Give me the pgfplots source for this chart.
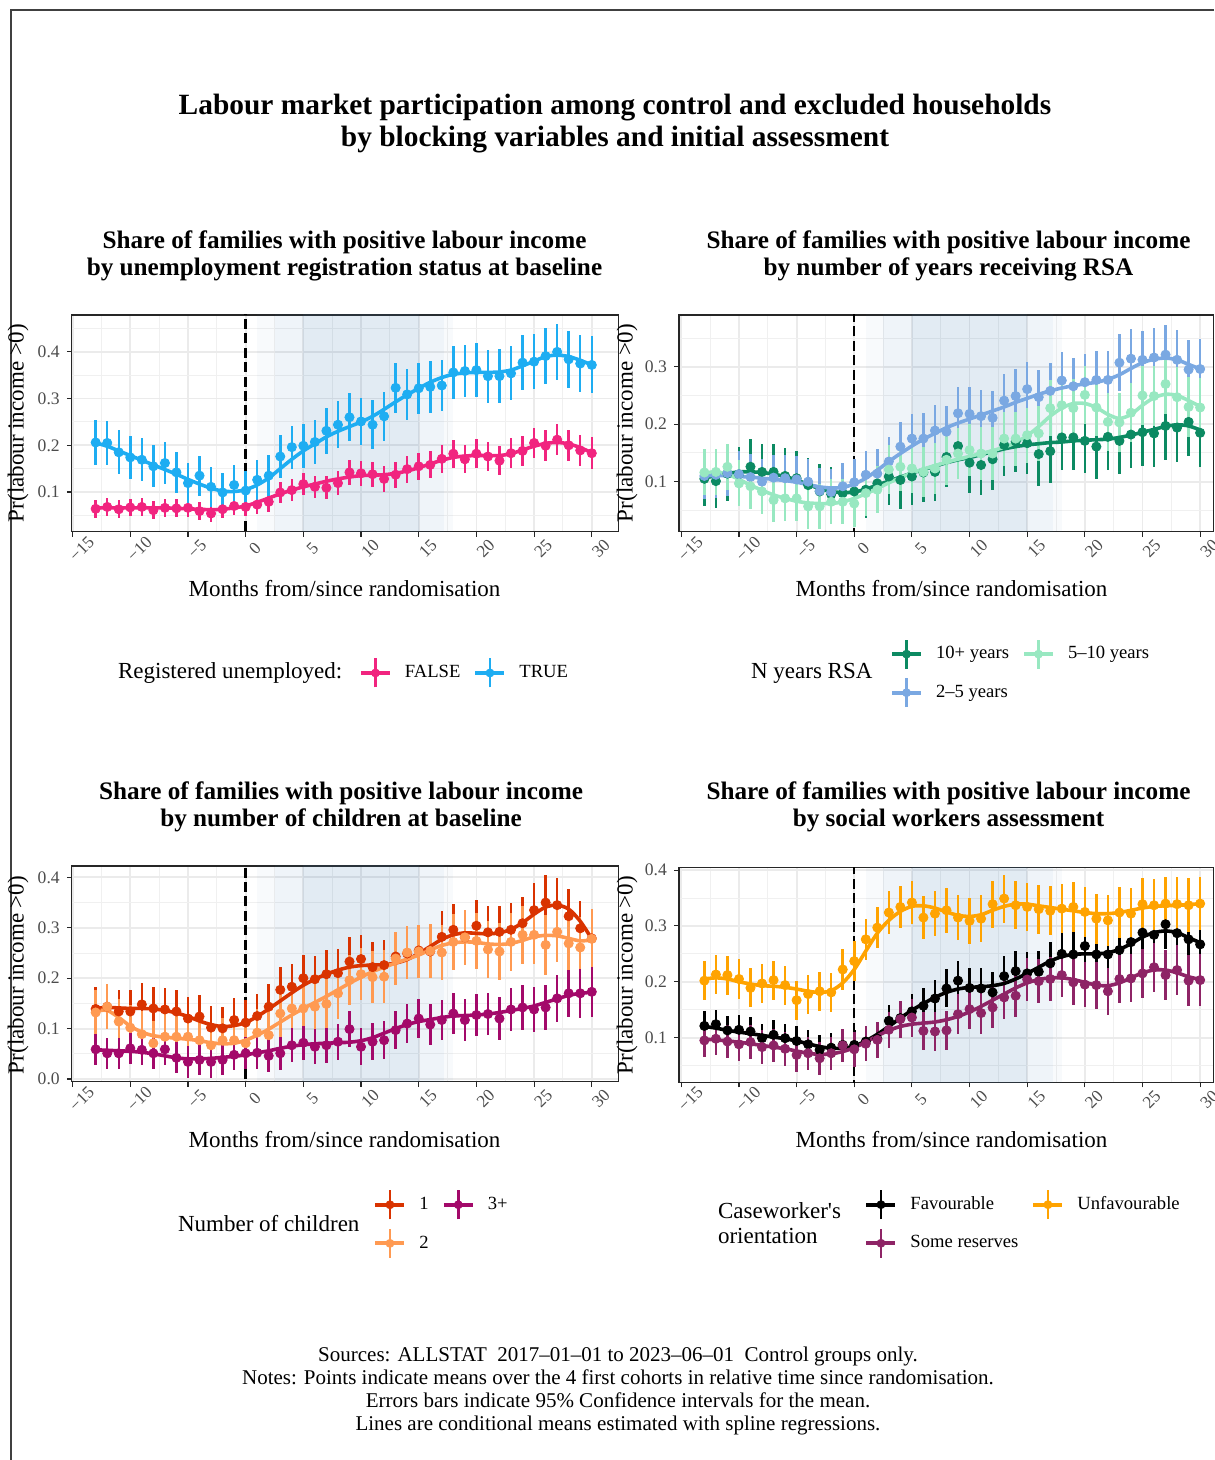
\documentclass[border=0pt]{standalone}
\usepackage{fontspec}
\setmainfont{Liberation Serif}
\usepackage{pgfplots}
\usepackage{pgfplotstable}
\pgfplotsset{compat=1.18}

\definecolor{cFalse}{HTML}{F1247F}
\definecolor{cTrue}{HTML}{1EADF2}
\definecolor{cTen}{HTML}{0C8A62}
\definecolor{cTwo}{HTML}{7AA8E2}
\definecolor{cFive}{HTML}{98E8C1}
\definecolor{cOne}{HTML}{D93300}
\definecolor{cKids}{HTML}{FF9A52}
\definecolor{cThree}{HTML}{A3096A}
\definecolor{cFav}{HTML}{000000}
\definecolor{cRes}{HTML}{8E2466}
\definecolor{cUnf}{HTML}{FFA300}
\definecolor{bandc}{RGB}{70,130,180}

% Panel 1: a = FALSE, b = TRUE
\pgfplotstableread{
m a ea sa b eb sb
-13 0.064 0.019 0.066 0.206 0.048 0.205
-12 0.068 0.019 0.066 0.205 0.048 0.198
-11 0.063 0.019 0.066 0.185 0.047 0.188
-10 0.067 0.019 0.066 0.174 0.046 0.178
-9 0.068 0.019 0.066 0.169 0.046 0.168
-8 0.061 0.019 0.066 0.155 0.045 0.158
-7 0.066 0.019 0.066 0.162 0.045 0.148
-6 0.065 0.019 0.065 0.142 0.044 0.138
-5 0.066 0.019 0.064 0.119 0.044 0.127
-4 0.059 0.019 0.063 0.135 0.043 0.117
-3 0.054 0.019 0.062 0.111 0.043 0.108
-2 0.063 0.019 0.063 0.099 0.042 0.102
-1 0.070 0.020 0.066 0.115 0.042 0.101
0 0.068 0.020 0.070 0.103 0.043 0.105
1 0.073 0.020 0.078 0.126 0.043 0.115
2 0.079 0.021 0.087 0.135 0.044 0.130
3 0.099 0.022 0.096 0.176 0.045 0.150
4 0.104 0.023 0.104 0.196 0.046 0.170
5 0.117 0.024 0.111 0.199 0.047 0.188
6 0.111 0.024 0.117 0.207 0.048 0.203
7 0.109 0.025 0.123 0.231 0.049 0.218
8 0.119 0.026 0.128 0.244 0.050 0.230
9 0.142 0.027 0.132 0.260 0.051 0.240
10 0.140 0.027 0.135 0.251 0.051 0.250
11 0.138 0.027 0.136 0.244 0.052 0.262
12 0.128 0.028 0.137 0.262 0.052 0.277
13 0.137 0.028 0.140 0.323 0.053 0.293
14 0.149 0.029 0.145 0.309 0.054 0.308
15 0.155 0.029 0.152 0.322 0.054 0.322
16 0.158 0.029 0.160 0.325 0.055 0.335
17 0.171 0.030 0.168 0.328 0.055 0.345
18 0.182 0.030 0.174 0.356 0.056 0.352
19 0.170 0.030 0.177 0.359 0.056 0.355
20 0.182 0.031 0.178 0.361 0.057 0.356
21 0.176 0.031 0.178 0.348 0.057 0.356
22 0.167 0.031 0.178 0.348 0.058 0.357
23 0.183 0.032 0.182 0.354 0.058 0.361
24 0.188 0.032 0.190 0.377 0.059 0.370
25 0.205 0.032 0.198 0.379 0.059 0.380
26 0.199 0.033 0.204 0.391 0.060 0.390
27 0.212 0.033 0.206 0.400 0.060 0.393
28 0.200 0.033 0.203 0.384 0.061 0.390
29 0.189 0.034 0.195 0.375 0.061 0.382
30 0.183 0.034 0.184 0.372 0.061 0.372
}\tabA

% Panel 2: g = 10+ years, b = 2-5 years, t = 5-10 years
\pgfplotstableread{
m g eg sg b eb sb t et st
-13 0.105 0.047 0.107 0.110 0.040 0.110 0.116 0.040 0.115
-12 0.101 0.047 0.110 0.112 0.040 0.111 0.117 0.040 0.117
-11 0.114 0.048 0.114 0.115 0.040 0.110 0.126 0.040 0.113
-10 0.113 0.048 0.117 0.113 0.040 0.109 0.097 0.040 0.104
-9 0.126 0.048 0.117 0.108 0.040 0.108 0.092 0.040 0.094
-8 0.117 0.048 0.116 0.100 0.040 0.106 0.083 0.039 0.085
-7 0.117 0.048 0.113 0.107 0.040 0.104 0.068 0.039 0.077
-6 0.110 0.048 0.109 0.106 0.040 0.102 0.071 0.039 0.071
-5 0.106 0.048 0.103 0.104 0.040 0.099 0.071 0.039 0.066
-4 0.094 0.048 0.095 0.100 0.040 0.095 0.057 0.039 0.063
-3 0.083 0.048 0.088 0.084 0.040 0.091 0.057 0.039 0.062
-2 0.078 0.048 0.083 0.082 0.040 0.089 0.065 0.039 0.062
-1 0.080 0.048 0.081 0.092 0.040 0.090 0.065 0.039 0.065
0 0.083 0.049 0.082 0.099 0.041 0.096 0.062 0.040 0.071
1 0.086 0.049 0.087 0.112 0.041 0.106 0.080 0.040 0.079
2 0.097 0.049 0.094 0.114 0.042 0.120 0.086 0.041 0.088
3 0.109 0.050 0.101 0.135 0.042 0.135 0.121 0.042 0.098
4 0.103 0.050 0.108 0.161 0.043 0.149 0.126 0.042 0.107
5 0.109 0.050 0.115 0.175 0.043 0.162 0.123 0.043 0.115
6 0.116 0.051 0.121 0.175 0.044 0.174 0.117 0.043 0.122
7 0.117 0.051 0.127 0.189 0.044 0.184 0.123 0.044 0.128
8 0.143 0.052 0.133 0.187 0.045 0.194 0.138 0.044 0.134
9 0.162 0.052 0.138 0.219 0.045 0.202 0.149 0.045 0.139
10 0.133 0.052 0.142 0.218 0.046 0.209 0.155 0.045 0.144
11 0.129 0.053 0.147 0.214 0.046 0.216 0.149 0.046 0.149
12 0.139 0.053 0.152 0.211 0.046 0.223 0.149 0.046 0.154
13 0.164 0.054 0.157 0.241 0.047 0.230 0.175 0.047 0.160
14 0.170 0.054 0.161 0.249 0.047 0.238 0.175 0.047 0.168
15 0.167 0.054 0.164 0.261 0.048 0.245 0.181 0.048 0.180
16 0.148 0.055 0.166 0.247 0.048 0.252 0.184 0.048 0.196
17 0.153 0.055 0.168 0.258 0.048 0.258 0.228 0.049 0.214
18 0.177 0.056 0.169 0.276 0.049 0.263 0.233 0.049 0.228
19 0.177 0.056 0.171 0.266 0.049 0.267 0.228 0.050 0.236
20 0.171 0.056 0.172 0.273 0.049 0.270 0.251 0.050 0.236
21 0.161 0.057 0.173 0.277 0.050 0.273 0.229 0.050 0.229
22 0.178 0.057 0.174 0.277 0.050 0.278 0.204 0.051 0.217
23 0.171 0.057 0.177 0.307 0.050 0.286 0.203 0.051 0.210
24 0.182 0.058 0.181 0.314 0.051 0.297 0.220 0.051 0.217
25 0.186 0.058 0.186 0.312 0.051 0.307 0.250 0.052 0.233
26 0.184 0.058 0.191 0.316 0.051 0.313 0.249 0.052 0.246
27 0.197 0.059 0.196 0.321 0.052 0.315 0.270 0.052 0.252
28 0.194 0.059 0.199 0.312 0.052 0.312 0.247 0.052 0.250
29 0.204 0.059 0.197 0.295 0.052 0.304 0.230 0.052 0.241
30 0.185 0.060 0.190 0.296 0.052 0.296 0.229 0.052 0.231
}\tabB

% Panel 3: r = 1 child, o = 2 children, p = 3+
\pgfplotstableread{
m r er sr o eo so p ep sp
-13 0.139 0.043 0.140 0.132 0.045 0.135 0.059 0.031 0.058
-12 0.1435 0.043 0.142 0.1435 0.045 0.136 0.051 0.031 0.057
-11 0.134 0.043 0.141 0.114 0.045 0.122 0.051 0.031 0.056
-10 0.134 0.043 0.140 0.102 0.045 0.105 0.061 0.031 0.055
-9 0.148 0.043 0.140 0.089 0.045 0.093 0.058 0.031 0.053
-8 0.140 0.043 0.139 0.071 0.045 0.086 0.051 0.031 0.050
-7 0.138 0.043 0.136 0.084 0.045 0.083 0.059 0.031 0.046
-6 0.134 0.043 0.131 0.084 0.045 0.081 0.042 0.031 0.042
-5 0.120 0.043 0.124 0.084 0.045 0.079 0.034 0.031 0.040
-4 0.124 0.043 0.115 0.077 0.045 0.076 0.038 0.031 0.040
-3 0.102 0.043 0.108 0.067 0.045 0.072 0.034 0.031 0.041
-2 0.1005 0.043 0.104 0.077 0.045 0.070 0.038 0.031 0.043
-1 0.117 0.043 0.106 0.077 0.045 0.071 0.048 0.031 0.045
0 0.112 0.044 0.112 0.071 0.046 0.077 0.051 0.032 0.048
1 0.125 0.044 0.124 0.092 0.046 0.087 0.052 0.032 0.052
2 0.1435 0.045 0.139 0.087 0.047 0.099 0.046 0.033 0.056
3 0.177 0.045 0.155 0.130 0.047 0.113 0.051 0.033 0.061
4 0.183 0.046 0.171 0.140 0.048 0.127 0.067 0.034 0.065
5 0.200 0.046 0.186 0.140 0.048 0.140 0.072 0.034 0.068
6 0.198 0.047 0.198 0.1435 0.049 0.152 0.064 0.035 0.070
7 0.208 0.047 0.208 0.149 0.049 0.164 0.067 0.035 0.071
8 0.210 0.048 0.216 0.170 0.050 0.177 0.074 0.036 0.072
9 0.233 0.048 0.222 0.196 0.050 0.190 0.099 0.036 0.073
10 0.238 0.048 0.225 0.208 0.051 0.202 0.064 0.037 0.076
11 0.222 0.049 0.226 0.202 0.051 0.213 0.074 0.037 0.082
12 0.226 0.049 0.227 0.203 0.052 0.222 0.077 0.038 0.091
13 0.243 0.049 0.230 0.239 0.052 0.230 0.097 0.038 0.100
14 0.249 0.050 0.237 0.251 0.053 0.238 0.110 0.039 0.108
15 0.255 0.050 0.249 0.253 0.053 0.246 0.120 0.039 0.114
16 0.253 0.050 0.263 0.254 0.054 0.256 0.108 0.040 0.118
17 0.282 0.051 0.277 0.251 0.054 0.265 0.117 0.040 0.122
18 0.296 0.051 0.286 0.272 0.055 0.270 0.130 0.041 0.125
19 0.281 0.051 0.290 0.281 0.055 0.272 0.117 0.041 0.126
20 0.304 0.052 0.289 0.274 0.056 0.271 0.127 0.042 0.127
21 0.291 0.052 0.288 0.257 0.056 0.268 0.129 0.042 0.129
22 0.292 0.052 0.290 0.253 0.057 0.267 0.120 0.043 0.132
23 0.296 0.053 0.297 0.272 0.057 0.269 0.138 0.043 0.136
24 0.309 0.053 0.310 0.286 0.058 0.275 0.142 0.044 0.140
25 0.335 0.053 0.327 0.286 0.058 0.282 0.138 0.044 0.145
26 0.350 0.054 0.341 0.266 0.059 0.285 0.142 0.045 0.152
27 0.345 0.054 0.345 0.292 0.059 0.284 0.160 0.046 0.159
28 0.323 0.054 0.337 0.269 0.059 0.279 0.170 0.047 0.166
29 0.299 0.055 0.313 0.261 0.060 0.274 0.170 0.048 0.170
30 0.279 0.055 0.278 0.278 0.060 0.276 0.173 0.049 0.172
}\tabC

% Panel 4: f = Favourable, s = Some reserves, u = Unfavourable
\pgfplotstableread{
m f ef sf s es ss u eu su
-13 0.121 0.026 0.120 0.095 0.030 0.097 0.202 0.035 0.205
-12 0.124 0.026 0.117 0.098 0.030 0.096 0.213 0.035 0.207
-11 0.113 0.026 0.113 0.093 0.030 0.094 0.212 0.035 0.205
-10 0.114 0.026 0.110 0.088 0.030 0.092 0.205 0.035 0.200
-9 0.111 0.026 0.107 0.092 0.030 0.089 0.189 0.035 0.196
-8 0.099 0.026 0.104 0.083 0.030 0.086 0.197 0.035 0.193
-7 0.105 0.026 0.101 0.086 0.030 0.083 0.203 0.035 0.192
-6 0.099 0.026 0.098 0.080 0.030 0.080 0.194 0.035 0.190
-5 0.094 0.026 0.094 0.069 0.030 0.076 0.167 0.035 0.187
-4 0.088 0.026 0.089 0.072 0.030 0.072 0.178 0.035 0.183
-3 0.078 0.026 0.084 0.063 0.030 0.070 0.183 0.035 0.181
-2 0.082 0.026 0.081 0.072 0.030 0.071 0.181 0.035 0.184
-1 0.087 0.026 0.081 0.086 0.030 0.075 0.222 0.036 0.198
0 0.087 0.027 0.085 0.079 0.031 0.082 0.237 0.036 0.222
1 0.093 0.027 0.094 0.089 0.031 0.092 0.276 0.037 0.255
2 0.098 0.028 0.106 0.096 0.032 0.103 0.297 0.037 0.287
3 0.130 0.029 0.120 0.114 0.032 0.113 0.324 0.038 0.310
4 0.135 0.030 0.135 0.133 0.033 0.120 0.334 0.038 0.326
5 0.147 0.031 0.149 0.136 0.034 0.124 0.342 0.039 0.335
6 0.157 0.032 0.161 0.112 0.034 0.126 0.315 0.039 0.336
7 0.170 0.033 0.172 0.111 0.035 0.128 0.322 0.040 0.332
8 0.188 0.034 0.181 0.113 0.035 0.132 0.328 0.040 0.325
9 0.202 0.035 0.187 0.142 0.036 0.138 0.315 0.041 0.319
10 0.189 0.035 0.190 0.151 0.036 0.146 0.309 0.041 0.317
11 0.188 0.036 0.191 0.144 0.037 0.156 0.313 0.042 0.320
12 0.181 0.036 0.193 0.154 0.037 0.167 0.339 0.042 0.328
13 0.210 0.037 0.197 0.172 0.038 0.178 0.349 0.043 0.335
14 0.219 0.037 0.205 0.175 0.038 0.189 0.337 0.043 0.339
15 0.215 0.038 0.215 0.204 0.039 0.198 0.334 0.043 0.339
16 0.218 0.038 0.226 0.201 0.039 0.204 0.330 0.044 0.336
17 0.233 0.039 0.237 0.205 0.040 0.207 0.327 0.044 0.333
18 0.250 0.039 0.245 0.212 0.040 0.207 0.331 0.044 0.330
19 0.249 0.040 0.249 0.199 0.041 0.204 0.334 0.045 0.327
20 0.264 0.040 0.250 0.195 0.041 0.199 0.325 0.045 0.324
21 0.249 0.041 0.250 0.194 0.042 0.194 0.313 0.045 0.322
22 0.249 0.041 0.252 0.183 0.042 0.193 0.310 0.046 0.322
23 0.257 0.042 0.258 0.205 0.043 0.198 0.324 0.046 0.324
24 0.271 0.042 0.268 0.206 0.043 0.207 0.322 0.046 0.328
25 0.288 0.043 0.280 0.215 0.044 0.216 0.339 0.047 0.332
26 0.284 0.043 0.288 0.226 0.044 0.221 0.337 0.047 0.335
27 0.303 0.044 0.291 0.212 0.045 0.221 0.340 0.047 0.336
28 0.287 0.045 0.288 0.221 0.045 0.216 0.339 0.048 0.337
29 0.276 0.046 0.279 0.202 0.046 0.209 0.337 0.048 0.338
30 0.267 0.047 0.270 0.203 0.047 0.204 0.340 0.048 0.340
}\tabD

\pgfplotsset{
  panel/.style={
    scale only axis, anchor=south west,
    axis line style={draw=black!85, line width=0.55pt},
    xtick={-15,-10,...,30},
    xticklabels={−15,−10,−5,0,5,10,15,20,25,30},
    minor xtick={-12.5,-7.5,-2.5,2.5,7.5,12.5,17.5,22.5,27.5},
    grid=both,
    major grid style={draw=gray!16, line width=0.9pt},
    minor grid style={draw=gray!12, line width=0.45pt},
    tick align=outside, xtick pos=bottom, ytick pos=left,
    major tick length=2.5pt, minor tick length=0pt,
    tick style={draw=black!85, line width=0.55pt},
    xticklabel style={rotate=45, anchor=center, inner sep=0.5pt, xshift=-1pt, yshift=-7.5pt,
      font=\fontsize{8.6}{10}\selectfont, text=black!70},
    yticklabel style={font=\fontsize{8.8}{10}\selectfont, text=black!70},
    legend columns=2,
    legend cell align=left,
    legend style={draw=none, fill=none, inner sep=0pt, outer sep=0pt,
      column sep=6.5pt, row sep=3.5pt, anchor=west,
      font=\fontsize{9.3}{11}\selectfont, nodes={inner sep=0pt}},
    legend image code/.code={
      \draw[line width=2pt] (0pt,0pt) -- (14.5pt,0pt);
      \draw[line width=1.3pt] (7.25pt,-7.25pt) -- (7.25pt,7.25pt);
      \fill (7.25pt,0pt) circle (2pt);
    },
  },
  pts/.style={forget plot, only marks, mark=*, mark size=2.3pt, color=#1,
    error bars/.cd, y dir=both, y explicit, error mark=none,
    error bar style={line width=1.25pt, color=#1}},
  fit/.style={forget plot, no marks, smooth, color=#1, line width=1.8pt},
}

\newcommand{\bands}{%
  \fill[fill=bandc, fill opacity=0.04] (axis cs:1,-1) rectangle (axis cs:18,1);
  \fill[fill=bandc, fill opacity=0.05] (axis cs:2.5,-1) rectangle (axis cs:17.2,1);
  \fill[fill=bandc, fill opacity=0.08] (axis cs:5,-1) rectangle (axis cs:15,1);
  \draw[black, line width=1.2pt, dash pattern=on 5pt off 2.2pt] (axis cs:0,-1) -- (axis cs:0,1);
}

\begin{document}
\begin{tikzpicture}
\useasboundingbox (0,0) rectangle (607pt,730pt);
\draw[black!75, line width=0.8pt] (5.5pt,0pt) -- (5.5pt,725pt) -- (607pt,725pt);

\node[align=center, font=\fontsize{14.7}{16}\selectfont\bfseries] at (307.5pt,668pt)
  {Labour market participation among control and excluded households\\by blocking variables and initial assessment};

% ---------- Panel 1
\node[align=center, font=\fontsize{12.6}{13.5}\selectfont\bfseries] at (172.25pt,602.25pt)
  {Share of families with positive labour income\\by unemployment registration status at baseline};
\begin{axis}[panel, at={(35.9pt,464.15pt)}, width=273.25pt, height=108.35pt,
  xmin=-15.07, xmax=32.3, ymin=0.015, ymax=0.479,
  ytick={0.1,0.2,0.3,0.4}, yticklabels={0.1,0.2,0.3,0.4},
  minor ytick={0.05,0.15,0.25,0.35,0.45},
  legend style={at={(0.5255,-0.652)}}]
\bands
\addplot[pts=cFalse] table[x=m, y=a, y error=ea]{\tabA};
\addplot[pts=cTrue] table[x=m, y=b, y error=eb]{\tabA};
\addplot[fit=cFalse] table[x=m, y=sa]{\tabA};
\addplot[fit=cTrue] table[x=m, y=sb]{\tabA};
\addlegendimage{color=cFalse}\addlegendentry{FALSE}
\addlegendimage{color=cTrue}\addlegendentry{TRUE}
\end{axis}
\node[font=\fontsize{11.5}{13}\selectfont] at (172.25pt,435.5pt) {Months from/since randomisation};
\node[rotate=90, font=\fontsize{11.5}{13}\selectfont] at (9pt,518.5pt) {Pr(labour income >0)};
\node[anchor=west, font=\fontsize{11.5}{13}\selectfont] at (55.5pt,393.5pt) {Registered unemployed:};

% ---------- Panel 2
\node[align=center, font=\fontsize{12.6}{13.5}\selectfont\bfseries] at (474.25pt,602.25pt)
  {Share of families with positive labour income\\by number of years receiving RSA};
\begin{axis}[panel, at={(339.5pt,464.15pt)}, width=267.25pt, height=108.35pt,
  xmin=-15.2, xmax=31.16, ymin=0.013, ymax=0.39,
  ytick={0.1,0.2,0.3}, yticklabels={0.1,0.2,0.3},
  minor ytick={0.05,0.15,0.25,0.35},
  legend style={at={(0.3948,-0.654)}}]
\bands
\addplot[pts=cTen] table[x=m, y=g, y error=eg]{\tabB};
\addplot[pts=cTwo] table[x=m, y=b, y error=eb]{\tabB};
\addplot[pts=cFive] table[x=m, y=t, y error=et]{\tabB};
\addplot[fit=cTen] table[x=m, y=sg]{\tabB};
\addplot[fit=cTwo] table[x=m, y=sb]{\tabB};
\addplot[fit=cFive] table[x=m, y=st]{\tabB};
\addlegendimage{color=cTen}\addlegendentry{10+ years}
\addlegendimage{color=cFive}\addlegendentry{5--10 years}
\addlegendimage{color=cTwo}\addlegendentry{2--5 years}
\end{axis}
\node[font=\fontsize{11.5}{13}\selectfont] at (475.75pt,435.5pt) {Months from/since randomisation};
\node[rotate=90, font=\fontsize{11.5}{13}\selectfont] at (313.5pt,518.5pt) {Pr(labour income >0)};
\node[anchor=west, font=\fontsize{11.5}{13}\selectfont] at (372pt,393.5pt) {N years RSA};

% ---------- Panel 3
\node[align=center, font=\fontsize{12.6}{13.5}\selectfont\bfseries] at (170.5pt,326.75pt)
  {Share of families with positive labour income\\by number of children at baseline};
\begin{axis}[panel, at={(35.9pt,189.15pt)}, width=273.25pt, height=107.85pt,
  xmin=-15.07, xmax=32.3, ymin=-0.0053, ymax=0.4226,
  ytick={0,0.1,0.2,0.3,0.4}, yticklabels={0.0,0.1,0.2,0.3,0.4},
  minor ytick={0.05,0.15,0.25,0.35},
  legend style={at={(0.552,-0.66)}}]
\bands
\addplot[pts=cOne] table[x=m, y=r, y error=er]{\tabC};
\addplot[pts=cKids] table[x=m, y=o, y error=eo]{\tabC};
\addplot[pts=cThree] table[x=m, y=p, y error=ep]{\tabC};
\addplot[fit=cOne] table[x=m, y=sr]{\tabC};
\addplot[fit=cKids] table[x=m, y=so]{\tabC};
\addplot[fit=cThree] table[x=m, y=sp]{\tabC};
\addlegendimage{color=cOne}\addlegendentry{1}
\addlegendimage{color=cThree}\addlegendentry{3+}
\addlegendimage{color=cKids}\addlegendentry{2}
\end{axis}
\node[font=\fontsize{11.5}{13}\selectfont] at (172.25pt,160pt) {Months from/since randomisation};
\node[rotate=90, font=\fontsize{11.5}{13}\selectfont] at (9pt,242.5pt) {Pr(labour income >0)};
\node[anchor=west, font=\fontsize{11.5}{13}\selectfont] at (85.5pt,118pt) {Number of children};

% ---------- Panel 4
\node[align=center, font=\fontsize{12.6}{13.5}\selectfont\bfseries] at (474.25pt,326.75pt)
  {Share of families with positive labour income\\by social workers assessment};
\begin{axis}[panel, at={(339.5pt,188.85pt)}, width=267.25pt, height=107.5pt,
  xmin=-15.2, xmax=31.16, ymin=0.020, ymax=0.405,
  ytick={0.1,0.2,0.3,0.4}, yticklabels={0.1,0.2,0.3,0.4},
  minor ytick={0.05,0.15,0.25,0.35},
  legend style={at={(0.347,-0.659)}}]
\bands
\addplot[pts=cFav] table[x=m, y=f, y error=ef]{\tabD};
\addplot[pts=cRes] table[x=m, y=s, y error=es]{\tabD};
\addplot[pts=cUnf] table[x=m, y=u, y error=eu]{\tabD};
\addplot[fit=cFav] table[x=m, y=sf]{\tabD};
\addplot[fit=cRes] table[x=m, y=ss]{\tabD};
\addplot[fit=cUnf] table[x=m, y=su]{\tabD};
\addlegendimage{color=cFav}\addlegendentry{Favourable}
\addlegendimage{color=cUnf}\addlegendentry{Unfavourable}
\addlegendimage{color=cRes}\addlegendentry{Some reserves}
\end{axis}
\node[font=\fontsize{11.5}{13}\selectfont] at (475.75pt,160pt) {Months from/since randomisation};
\node[rotate=90, font=\fontsize{11.5}{13}\selectfont] at (313.5pt,242.5pt) {Pr(labour income >0)};
\node[anchor=west, align=left, font=\fontsize{11.5}{12.5}\selectfont] at (355.5pt,118.25pt) {Caseworker\textquotesingle s\\orientation};

% ---------- Footer
\node[align=center, font=\fontsize{10.5}{11.4}\selectfont] at (309pt,34.5pt)
  {Sources: ALLSTAT\ \ 2017--01--01 to 2023--06--01\ \ Control groups only.\\
   Notes: Points indicate means over the 4 first cohorts in relative time since randomisation.\\
   Errors bars indicate 95\% Confidence intervals for the mean.\\
   Lines are conditional means estimated with spline regressions.};
\end{tikzpicture}
\end{document}
